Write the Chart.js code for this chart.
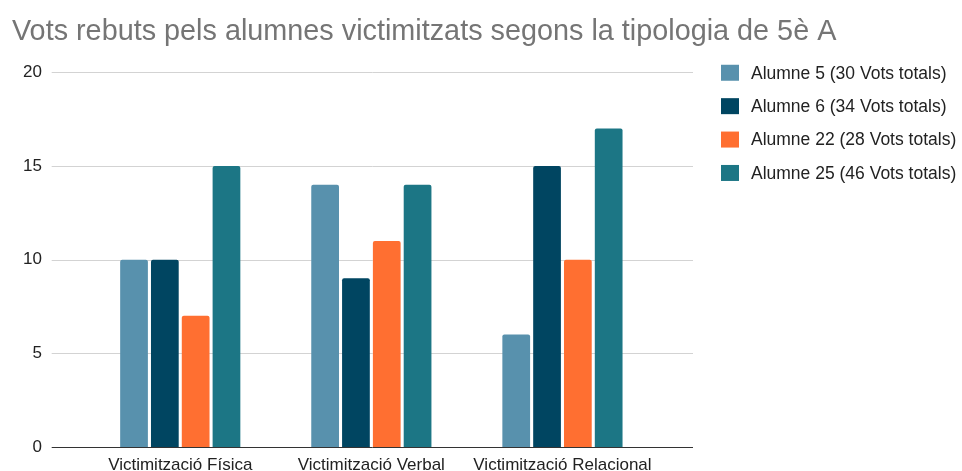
<!DOCTYPE html>
<html>
<head>
<meta charset="utf-8">
<script src="https://cdn.jsdelivr.net/npm/chart.js@4"></script>
<style>
  body { margin: 0; background: #fff; }
  canvas { display: block; }
</style>
</head>
<body>
<canvas id="grafic" width="962" height="471"></canvas>
<script>
const categories = ['Victimització Física', 'Victimització Verbal', 'Victimització Relacional'];
const seriesNames = ['Alumne 5 (30 Vots totals)', 'Alumne 6 (34 Vots totals)', 'Alumne 22 (28 Vots totals)', 'Alumne 25 (46 Vots totals)'];
const alumne5 = [10, 14, 6];
const alumne6 = [10, 9, 15];
const alumne22 = [7, 11, 10];
const alumne25 = [15, 14, 17];
const seriesColors = ['#5891ad', '#004561', '#ff6f31', '#1c7685'];
const yMin = 0, yMax = 20, yStep = 5;

const FONT = "'Liberation Sans', Arial, sans-serif";

// linies horitzontals que sobresurten de l'area del grafic
const gridPlugin = {
    id: 'gridAmple',
    beforeDatasetsDraw(chart) {
        const { ctx, chartArea, scales } = chart;
        const x0 = chartArea.left - 33, x1 = chartArea.right + 35;
        ctx.save();
        ctx.lineWidth = 1;
        ctx.strokeStyle = '#d3d3d3';
        scales.y.ticks.forEach(t => {
            if (t.value === 0) return;
            const y = Math.round(scales.y.getPixelForValue(t.value)) + 0.5;
            ctx.beginPath(); ctx.moveTo(x0, y); ctx.lineTo(x1, y); ctx.stroke();
        });
        ctx.restore();
    },
    afterDatasetsDraw(chart) {
        const { ctx, chartArea, scales } = chart;
        const y = Math.round(scales.y.getPixelForValue(0)) + 0.5;
        ctx.save();
        ctx.lineWidth = 1;
        ctx.strokeStyle = '#333333';
        ctx.beginPath(); ctx.moveTo(chartArea.left - 33, y); ctx.lineTo(chartArea.right + 35, y); ctx.stroke();
        ctx.restore();
    }
};

// llegenda dibuixada a ma, a la dreta
const legendPlugin = {
    id: 'llegenda',
    afterDraw(chart) {
        const { ctx, chartArea } = chart;
        const x = chartArea.right + 63;
        ctx.save();
        ctx.font = '17.5px ' + FONT;
        ctx.textBaseline = 'middle';
        ctx.textAlign = 'left';
        chart.data.datasets.forEach((ds, i) => {
            const cy = chartArea.top + 0.5 + i * 33.4;
            ctx.fillStyle = ds.backgroundColor;
            ctx.fillRect(x, cy - 8, 18, 16);
            ctx.fillStyle = '#222222';
            ctx.fillText(ds.label, x + 30, cy + 1);
        });
        ctx.restore();
    }
};

const dades = [alumne5, alumne6, alumne22, alumne25];

// eix buit per fer espai
const buit = (pos, mida) => ({
    type: 'linear',
    position: pos,
    weight: 0,
    grid: { display: false, drawTicks: false },
    border: { display: false },
    ticks: { display: false },
    afterFit: s => { s.width = mida; }
});

new Chart(document.getElementById('grafic'), {
    type: 'bar',
    data: {
        labels: categories,
        datasets: dades.map((d, i) => ({
            label: seriesNames[i],
            data: d,
            backgroundColor: seriesColors[i],
            borderRadius: 2,
            borderSkipped: 'start',
            categoryPercentage: 0.645,
            barPercentage: 0.9
        }))
    },
    options: {
        responsive: false,
        animation: false,
        layout: { padding: { left: 12, right: 0, top: 0, bottom: 0 } },
        plugins: {
            title: {
                display: true,
                text: 'Vots rebuts pels alumnes victimitzats segons la tipologia de 5è A',
                align: 'start',
                color: '#757575',
                font: { family: FONT, size: 28.8, weight: 'normal', lineHeight: 1.2 },
                padding: { top: 15, bottom: 1 }
            },
            legend: { display: false },
            tooltip: { enabled: false }
        },
        scales: {
            x: {
                grid: { display: false, drawTicks: false },
                border: { display: false },
                ticks: { color: '#222222', font: { family: FONT, size: 17 }, padding: 8, maxRotation: 0 },
                afterFit: s => { s.height = 24; }
            },
            xTop: {
                type: 'category',
                position: 'top',
                grid: { display: false, drawTicks: false },
                border: { display: false },
                ticks: { display: false },
                afterFit: s => { s.height = 21.7; }
            },
            y: {
                min: yMin,
                max: yMax,
                weight: 1,
                grid: { display: false, drawTicks: false },
                border: { display: false },
                ticks: { stepSize: yStep, color: '#222222', font: { family: FONT, size: 17 }, padding: 0 },
                afterFit: s => { s.width = 30; }
            },
            yGap: buit('left', 42.7),
            yRight: buit('right', 304)
        }
    },
    plugins: [gridPlugin, legendPlugin]
});
</script>
</body>
</html>
